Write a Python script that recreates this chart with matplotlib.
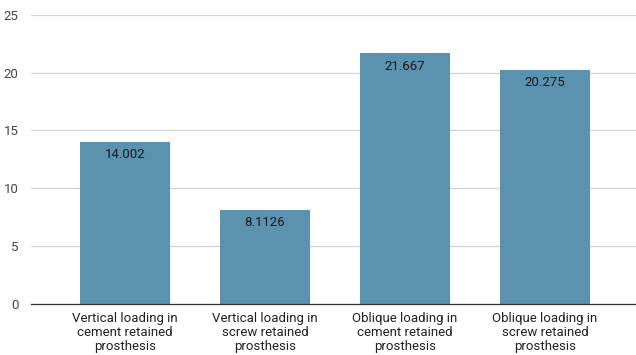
import matplotlib
matplotlib.use("Agg")
import matplotlib.pyplot as plt

plt.rcParams['font.family'] = ['Roboto', 'DejaVu Sans']

categories = [
    "Vertical loading in\ncement retained\nprosthesis",
    "Vertical loading in\nscrew retained\nprosthesis",
    "Oblique loading in\ncement retained\nprosthesis",
    "Oblique loading in\nscrew retained\nprosthesis",
]
values = [14.002, 8.1126, 21.667, 20.275]
value_labels = ["14.002", "8.1126", "21.667", "20.275"]
yticks = [0, 5, 10, 15, 20, 25]

fig = plt.figure(figsize=(6.36, 3.55), dpi=100)
ax = fig.add_axes([0.049, 0.144, 0.951, 0.814])

x = range(len(categories))
bars = ax.bar(x, values, width=0.64, color="#5b92b0", zorder=3)

for b, lab in zip(bars, value_labels):
    ax.text(b.get_x() + b.get_width() / 2, b.get_height() - 0.55, lab,
            ha="center", va="top", fontsize=9.5, color="#1a1a1a", zorder=4)

ax.set_ylim(0, 25)
ax.set_xlim(-0.67, 3.65)
ax.set_yticks(yticks)
ax.set_xticks(list(x))
ax.set_xticklabels(categories, fontsize=9.5, color="#222222", linespacing=1.1)
ax.tick_params(axis="y", labelsize=9.5, labelcolor="#444444", length=0, pad=9)
ax.tick_params(axis="x", length=0, pad=6)

ax.grid(axis="y", color="#d4d4d4", linewidth=0.9, zorder=0)
for s in ["top", "right", "left"]:
    ax.spines[s].set_visible(False)
ax.spines["bottom"].set_color("#333333")
ax.spines["bottom"].set_linewidth(0.9)
ax.spines["bottom"].set_zorder(5)

fig.savefig("out.png", dpi=100)
